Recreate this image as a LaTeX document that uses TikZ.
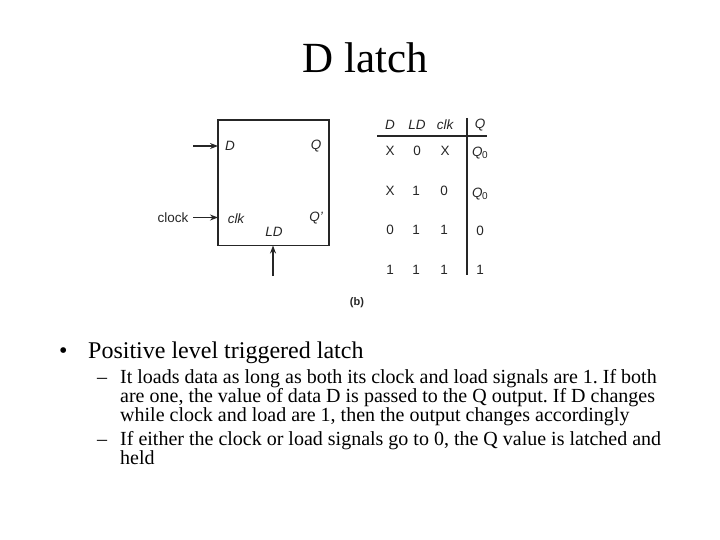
\documentclass[tikz,border=0pt]{standalone}
\usepackage{fontspec}
\setmainfont{Liberation Serif}
\setsansfont{Liberation Sans}
\usetikzlibrary{arrows.meta}
\tikzset{
 px/.style={x=1pt,y=-1pt},
 lbl/.style={font=\sffamily\fontsize{13.5}{15}\selectfont,text=black!85,inner sep=0pt},
 lbli/.style={font=\sffamily\itshape\fontsize{13.5}{15}\selectfont,text=black!85,inner sep=0pt},
 wire/.style={line width=1.3pt,draw=black!85},
 arr/.style={wire,-{Stealth[length=8pt,width=6pt]}},
 body/.style={font=\fontsize{20}{20}\selectfont\frenchspacing,inner sep=0pt,anchor=base west},
 head/.style={font=\fontsize{24}{24}\selectfont,inner sep=0pt,anchor=base west},
}
\newcommand{\qzero}{\textit{Q}\kern-0.5pt\raisebox{-2.5pt}{\fontsize{10}{10}\selectfont 0}}
\begin{document}
\begin{tikzpicture}[px]
\useasboundingbox (0,0) rectangle (720,540);
\node[inner sep=0pt,font=\fontsize{43}{45}\selectfont,anchor=base] (title) at (365.5,73) {D latch};
% latch box
\coordinate (bTL) at (218,120);
\coordinate (bBR) at (329,245.5);
\draw[wire] (bTL) rectangle (bBR);
\node[lbli] (d) at (230,146) {D};
\node[lbli] (q) at (316,146) {Q};
\node[lbli] (ck) at (236,219) {clk};
\node[lbli] (qp) at (316,218) {Q'};
\node[lbli] (ld) at (274,232) {LD};
\node[lbl] (clock) at (173,218) {clock};
\coordinate (dIn) at (193,146);
\coordinate (dEnd) at (218,146);
\coordinate (clkIn) at (193,217.5);
\coordinate (clkEnd) at (218,217.5);
\coordinate (ldIn) at (273,276);
\coordinate (ldEnd) at (273,245.5);
\draw[arr] (dIn) -- (dEnd);
\draw[arr] (clkIn) -- (clkEnd);
\draw[arr] (ldIn) -- (ldEnd);
% truth table
\foreach \n/\x/\y/\t in {h1/390/125/D,h2/417/125/LD,h3/445/125/clk,h4/480/125/Q}
  \node[lbli] (\n) at (\x,\y) {\t};
\foreach \n/\x/\y/\t in {a1/390/151/X,a2/417/151/0,a3/445/151/X,
 b1/390/191/X,b2/416/191/1,b3/444/191/0,
 c1/390/230/0,c2/416/230/1,c3/444/230/1,c4/480/231/0,
 e1/390/270/1,e2/416/270/1,e3/444/270/1,e4/480/270/1}
  \node[lbl] (\n) at (\x,\y) {\t};
\node[lbl] (a4) at (480,153) {\qzero};
\node[lbl] (b4) at (480,194) {\qzero};
\coordinate (hL) at (377,136);
\coordinate (hR) at (487,136);
\coordinate (vT) at (467,118);
\coordinate (vB) at (467,275);
\draw[wire] (hL) -- (hR);
\draw[wire] (vT) -- (vB);
\node[font=\sffamily\bfseries\fontsize{11}{13}\selectfont,inner sep=0pt,text=black!85] (b) at (357,303) {(b)};
% bullets
\node[head] (bu) at (59,358) {•};
\node[head] (t1) at (88,358) {Positive level triggered latch};
\node[body] (da) at (97,383) {–};
\node[body] (t2a) at (120,383) {It loads data as long as both its clock and load signals are 1. If both};
\node[body] (t2b) at (120,402) {are one, the value of data D is passed to the Q output. If D changes};
\node[body] (t2c) at (120,421) {while clock and load are 1, then the output changes accordingly};
\node[body] (db) at (97,445) {–};
\node[body] (t3a) at (120,445) {If either the clock or load signals go to 0, the Q value is latched and};
\node[body] (t3b) at (120,464) {held};
\end{tikzpicture}
\end{document}
